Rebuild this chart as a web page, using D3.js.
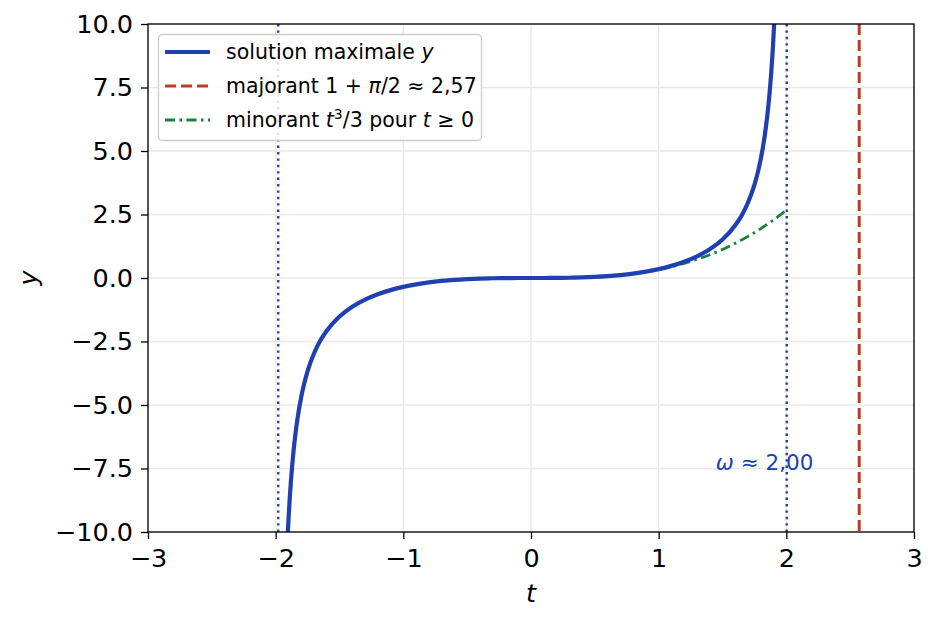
<!DOCTYPE html>
<html>
<head>
  <meta charset="utf-8">
  <title>Solution maximale</title>
  <script src="https://d3js.org/d3.v7.min.js"></script>
  <style>
    body { margin: 0; background: #fff; }
    text { font-family: "DejaVu Sans", sans-serif; }
  </style>
</head>
<body>
  <div id="my_dataviz"></div>

  <script>

    // values
    var tSol = [-1.92, -1.915, -1.905, -1.9, -1.895, -1.89, -1.88, -1.87, -1.86, -1.85, -1.83, -1.8, -1.78, -1.75,
                -1.7, -1.65, -1.6, -1.5, -1.4, -1.3, -1.2, -1.1, -1.0, -0.9, -0.8, -0.7, -0.6, -0.5, -0.4, -0.3, -0.2, -0.1,
                0, 0.1, 0.2, 0.3, 0.4, 0.5, 0.6, 0.7, 0.8, 0.9, 1.0, 1.1, 1.2, 1.3, 1.4, 1.5, 1.6, 1.65, 1.7,
                1.75, 1.78, 1.8, 1.83, 1.85, 1.86, 1.87, 1.88, 1.89, 1.895, 1.9, 1.905, 1.915, 1.92];
    var ySol = [-11.922, -11.234, -10.066, -9.567, -9.113, -8.699, -7.970, -7.349, -6.813, -6.346, -5.571, -4.687, -4.227, -3.667,
                -2.972, -2.464, -2.076, -1.517, -1.133, -0.853, -0.641, -0.478, -0.350, -0.251, -0.174, -0.116, -0.072, -0.042, -0.021, -0.009, -0.003, -0.0003,
                0, 0.0003, 0.003, 0.009, 0.021, 0.042, 0.072, 0.116, 0.174, 0.251, 0.350, 0.478, 0.641, 0.853, 1.133, 1.517, 2.076, 2.464, 2.972,
                3.667, 4.227, 4.687, 5.571, 6.346, 6.813, 7.349, 7.970, 8.699, 9.113, 9.567, 10.066, 11.234, 11.922];

    var tMin = [0, 0.1, 0.2, 0.3, 0.4, 0.5, 0.6, 0.7, 0.8, 0.9, 1.0, 1.1, 1.2, 1.3, 1.4, 1.5, 1.6, 1.7, 1.8, 1.9, 2.0];
    var yMin = [0, 0.0003, 0.0027, 0.009, 0.0213, 0.0417, 0.072, 0.1143, 0.1707, 0.243, 0.3333, 0.4437, 0.576, 0.7323,
                0.9147, 1.125, 1.3653, 1.6377, 1.944, 2.2863, 2.6667];

    var omegaRight = 2.003,
        omegaLeft = -1.98,
        majorant = 2.5708;

    var xTicks = [-3, -2, -1, 0, 1, 2, 3];
    var yTicks = [-10, -7.5, -5, -2.5, 0, 2.5, 5, 7.5, 10];

    var blue = "#1f40b0", red = "#c0392b", green = "#1b7f3e";

    // set the dimensions and margins of the graph
    var margin = {top: 24, right: 24, bottom: 93, left: 148},
        width = 938 - margin.left - margin.right,
        height = 625 - margin.top - margin.bottom;

    var svg = d3.select("#my_dataviz")
      .append("svg")
        .attr("width", 938)
        .attr("height", 625)
      .append("g")
        .attr("transform", "translate(" + margin.left + "," + margin.top + ")");

    var x = d3.scaleLinear().domain([-3, 3]).range([0, width]);
    var y = d3.scaleLinear().domain([-10, 10]).range([height, 0]);

    svg.append("clipPath").attr("id", "clip")
      .append("rect").attr("width", width).attr("height", height);

    // grid
    svg.append("g").selectAll("line").data(xTicks).enter().append("line")
      .attr("x1", function(d) { return x(d) }).attr("x2", function(d) { return x(d) })
      .attr("y1", 0).attr("y2", height)
      .style("stroke", "#e8e8e8").style("stroke-width", 1.3);
    svg.append("g").selectAll("line").data(yTicks).enter().append("line")
      .attr("y1", function(d) { return y(d) }).attr("y2", function(d) { return y(d) })
      .attr("x1", 0).attr("x2", width)
      .style("stroke", "#e8e8e8").style("stroke-width", 1.3);

    var plot = svg.append("g").attr("clip-path", "url(#clip)");

    // vertical lines
    plot.selectAll(".omega").data([omegaLeft, omegaRight]).enter().append("line")
      .attr("x1", function(d) { return x(d) }).attr("x2", function(d) { return x(d) })
      .attr("y1", 0).attr("y2", height)
      .style("stroke", blue).style("stroke-width", 2.4)
      .style("stroke-dasharray", "2.4,4");

    plot.append("line")
      .attr("x1", x(majorant)).attr("x2", x(majorant))
      .attr("y1", 0).attr("y2", height)
      .style("stroke", red).style("stroke-width", 3)
      .style("stroke-dasharray", "11,5");

    // minorant t^3/3
    plot.append("path")
      .datum(d3.zip(tMin, yMin))
      .attr("d", d3.line().curve(d3.curveMonotoneX)
        .x(function(d) { return x(d[0]) })
        .y(function(d) { return y(d[1]) }))
      .style("fill", "none").style("stroke", green).style("stroke-width", 2.8)
      .style("stroke-dasharray", "10,4.5,2.5,4.5");

    // solution
    plot.append("path")
      .datum(d3.zip(tSol, ySol))
      .attr("d", d3.line().curve(d3.curveMonotoneX)
        .x(function(d) { return x(d[0]) })
        .y(function(d) { return y(d[1]) }))
      .style("fill", "none").style("stroke", blue).style("stroke-width", 4.2);

    // annotation
    var ann = svg.append("text")
      .attr("x", x(1.83)).attr("y", y(-7.25))
      .attr("dy", "0.35em")
      .style("text-anchor", "middle")
      .style("font-size", "21.5px")
      .style("fill", blue);
    ann.append("tspan").style("font-style", "italic").text("ω");
    ann.append("tspan").text(" ≈ 2,00");

    // axes
    var xAxis = svg.append("g")
      .attr("transform", "translate(0," + height + ")")
      .call(d3.axisBottom(x).tickValues(xTicks).tickSize(7).tickPadding(10).tickFormat(d3.format("d")));
    var yAxis = svg.append("g")
      .call(d3.axisLeft(y).tickValues(yTicks).tickSize(7).tickPadding(8).tickFormat(d3.format(".1f")));
    [xAxis, yAxis].forEach(function(a) {
      a.selectAll("text").style("font-size", "25.5px").style("fill", "#000").style("font-family", "DejaVu Sans");
      a.selectAll("line").style("stroke", "#000").style("stroke-width", 1.3);
      a.select(".domain").remove();
    });

    // frame
    svg.append("rect")
      .attr("width", width).attr("height", height)
      .style("fill", "none").style("stroke", "#000").style("stroke-width", 1.3);

    // axis labels
    svg.append("text")
      .attr("x", width / 2).attr("y", height + 70)
      .style("text-anchor", "middle").style("font-size", "25.5px").style("font-style", "italic")
      .text("t");
    svg.append("text")
      .attr("transform", "rotate(-90)")
      .attr("x", -height / 2).attr("y", -111)
      .style("text-anchor", "middle").style("font-size", "25.5px").style("font-style", "italic")
      .text("y");

    // legend
    var legend = svg.append("g").attr("transform", "translate(10,10)");
    legend.append("rect")
      .attr("x", 0.5).attr("y", 0.5).attr("width", 323).attr("height", 106).attr("rx", 4)
      .style("fill", "#fff").style("fill-opacity", 0.85)
      .style("stroke", "#cccccc").style("stroke-width", 1.3);

    var rows = [
      {color: blue, dash: null, w: 4.2, parts: [["solution maximale ", ""], ["y", "i"]]},
      {color: red, dash: "11,5", w: 3, parts: [["majorant 1 + ", ""], ["π", "i"], ["/2 ≈ 2,57", ""]]},
      {color: green, dash: "10,4.5,2.5,4.5", w: 2.8, parts: [["minorant ", ""], ["t", "i"], ["3", "sup"], ["/3 pour ", ""], ["t", "i"], [" ≥ 0", ""]]}
    ];

    rows.forEach(function(r, i) {
      var cy = 18 + i * 34;
      legend.append("line")
        .attr("x1", 7).attr("x2", 52).attr("y1", cy).attr("y2", cy)
        .style("stroke", r.color).style("stroke-width", r.w)
        .style("stroke-dasharray", r.dash);
      var t = legend.append("text")
        .attr("x", 68).attr("y", cy).attr("dy", "0.36em")
        .style("font-size", "20.5px");
      var raised = false;
      r.parts.forEach(function(p) {
        var s = t.append("tspan").text(p[0]);
        if (p[1] == "i") s.style("font-style", "italic");
        if (p[1] == "sup") { s.attr("dy", -8).style("font-size", "14px"); raised = true; }
        else if (raised) { s.attr("dy", 8); raised = false; }
      });
    });

  </script>
</body>
</html>
